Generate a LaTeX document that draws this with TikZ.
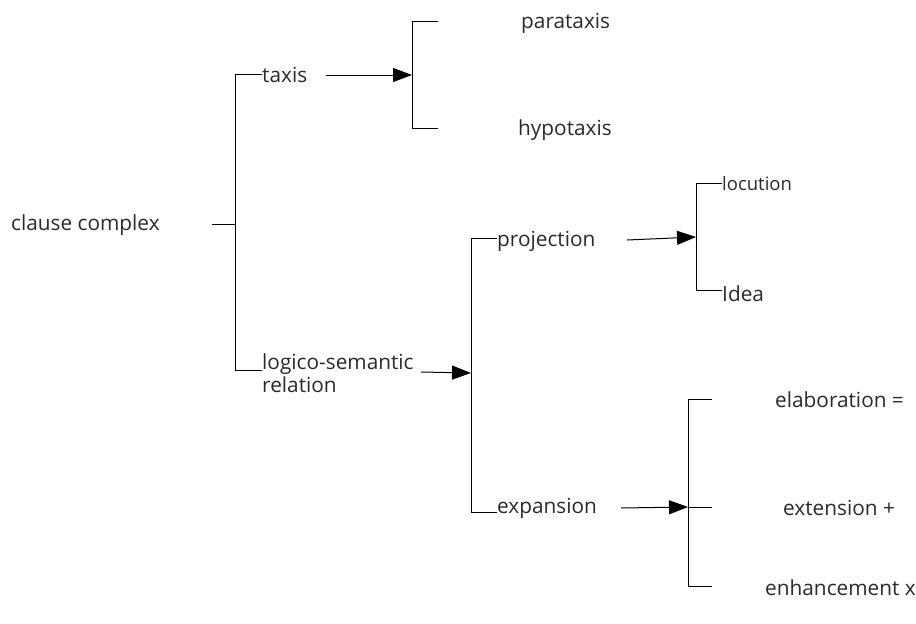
\documentclass[tikz,border=0pt]{standalone}
\usepackage{fontspec}
\setmainfont{Open Sans}
\usetikzlibrary{arrows.meta}
\definecolor{txt}{HTML}{2A2A2A}
\begin{document}
\begin{tikzpicture}[x=1pt,y=-1pt,
  lbl/.style={anchor=west,inner sep=0pt,font=\fontsize{20.8}{23}\selectfont,text=txt},
  sml/.style={anchor=west,inner sep=0pt,font=\fontsize{18.5}{22}\selectfont,text=txt},
  ln/.style={line width=1pt,black},
  arr/.style={ln,-{Triangle[length=19pt,width=14pt]}}]
\useasboundingbox (0,0) rectangle (916,624);
% texts
\node[lbl] (cc) at (11,225) {clause complex};
\node[lbl] (taxis) at (262,75) {taxis};
\node[lbl] (para) at (521,23) {parataxis};
\node[lbl] (hypo) at (518,130) {hypotaxis};
\node[lbl,align=left] (logico) at (262,373) {logico-semantic\\relation};
\node[lbl] (proj) at (497,241) {projection};
\node[lbl] (expa) at (497,508) {expansion};
\node[sml] (locu) at (722,184) {locution};
\node[lbl] (idea) at (722,294) {Idea};
\node[lbl] (elab) at (775,400) {elaboration =};
\node[lbl] (exte) at (783,508) {extension +};
\node[lbl] (enha) at (765,588) {enhancement x};
% coordinates
\coordinate (c0) at (212,224);
\coordinate (b1) at (235,224);
\coordinate (b1t) at (235,74);
\coordinate (b1b) at (235,370);
\coordinate (b2) at (412,75);
\coordinate (b2t) at (412,21);
\coordinate (b2b) at (412,128);
\coordinate (b3) at (471,373);
\coordinate (b3t) at (471,238);
\coordinate (b3b) at (471,512);
\coordinate (b4) at (696,237);
\coordinate (b4t) at (696,183);
\coordinate (b4b) at (696,290);
\coordinate (b5) at (688,507);
\coordinate (b5t) at (688,399);
\coordinate (b5b) at (688,586);
\coordinate (a1) at (326,75);
\coordinate (a2) at (421,372);
\coordinate (a3) at (627,240);
\coordinate (a4) at (621,508);
% brackets
\draw[ln] (c0) -- (b1);
\draw[ln] (taxis.west |- b1t) -- (b1t) -- (b1b) -- (262,370);
\draw[ln] (438,21) -- (b2t) -- (b2b) -- (438,128);
\draw[ln] (proj.west |- b3t) -- (b3t) -- (b3b) -- (497,512);
\draw[ln] (locu.west |- b4t) -- (b4t) -- (b4b) -- (722,290);
\draw[ln] (712,399) -- (b5t) -- (b5b) -- (712,586);
\draw[ln] (b5) -- (712,507);
% arrows
\draw[arr] (a1) -- (b2);
\draw[arr] (a2) -- (b3);
\draw[arr] (a3) -- (b4);
\draw[arr] (a4) -- (b5);
\end{tikzpicture}
\end{document}
